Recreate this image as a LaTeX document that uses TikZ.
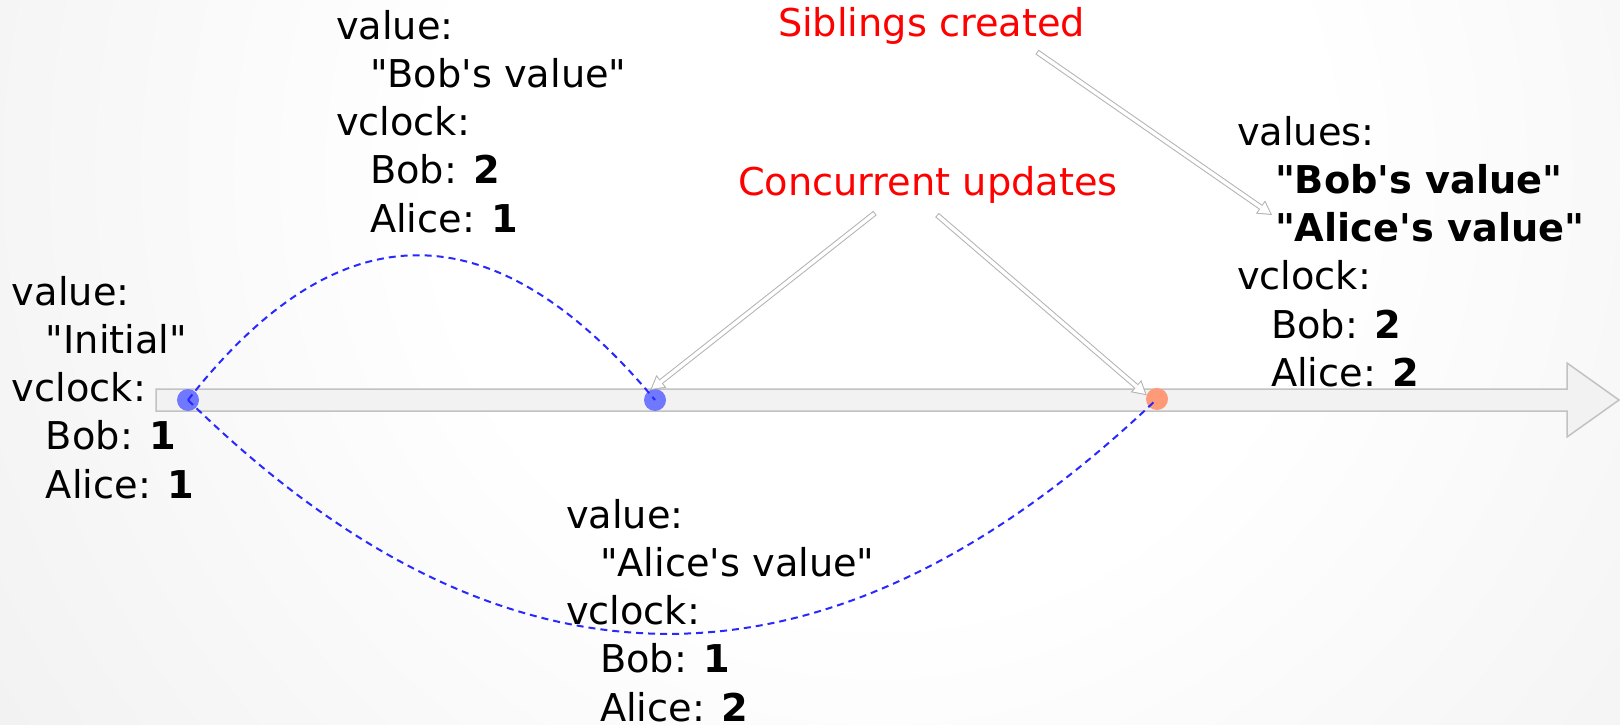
\documentclass[tikz,border=0pt]{standalone}
\usepackage{fontspec}
\setmainfont{DejaVu Sans}[Ligatures=TeXOff]
\usetikzlibrary{arrows.meta}

\definecolor{bgedge}{gray}{0.85}
\definecolor{railfill}{gray}{0.95}
\definecolor{raildraw}{gray}{0.76}
\definecolor{dotblue}{RGB}{112,120,255}
\definecolor{dotsalmon}{RGB}{255,154,120}
\definecolor{pathblue}{RGB}{40,40,255}
\definecolor{hollowedge}{gray}{0.70}
\definecolor{notered}{RGB}{255,0,0}

\pgfdeclareradialshading{bgglow}{\pgfpoint{0bp}{0bp}}%
  {color(0bp)=(white); color(10bp)=(white); color(50bp)=(bgedge)}

\tikzset{
  every node/.style={inner sep=0pt, outer sep=0pt},
  txt/.style={font=\fontsize{38.3}{48.25}\selectfont, text=black, align=left, anchor=north west},
  note/.style={font=\fontsize{38.3}{48.25}\selectfont, text=notered, anchor=base west},
  event/.style={circle, minimum size=22pt, fill=#1},
  clock/.style={draw=pathblue, line width=2pt, dash pattern=on 7pt off 5pt},
  hollowout/.style={line width=5.5pt, draw=hollowedge,
    -{Triangle[length=14pt, width=16pt, line width=0pt]}},
  hollowin/.style={line width=3.5pt, draw=white,
    -{Triangle[length=11pt, width=12.5pt, line width=0pt]}, shorten >=2pt, shorten <=1pt},
}
% tall invisible rule fixing the first baseline 32pt below a block's top
\newcommand\firstline{\rule{0pt}{32pt}}
\newcommand\ind{\hspace*{34pt}}
\newcommand\hollowarrow[2]{%
  \draw[hollowout] (#1) -- (#2);
  \draw[hollowin] (#1) -- (#2);}

\begin{document}
\begin{tikzpicture}[x=1pt, y=-1pt]
\useasboundingbox (0,0) rectangle (1620,725);

% soft radial backdrop
\begin{scope}
  \clip (0,0) rectangle (1620,725);
  \shade[shading=bgglow] (880,170) circle[radius=1100pt];
\end{scope}

% time line
\draw[draw=raildraw, fill=railfill, line width=1.5pt, line join=miter]
  (156,389) -- (1567,389) -- (1567,363) -- (1619,400) -- (1567,437)
  -- (1567,411) -- (156,411) -- cycle;

% events
\node[event=dotblue]   (d1) at (188,400) {};
\node[event=dotblue]   (d2) at (655,400) {};
\node[event=dotsalmon] (d3) at (1157,399) {};

% causal history
\draw[clock] (d1.center) .. controls (339,207) and (494,207) .. (d2.center);
\draw[clock] (d1.center) .. controls (506,712) and (829,712) .. (d3.center);

% annotations
\node[note] (sib)  at (778,37)  {Siblings created};
\node[note] (conc) at (738,195) {Concurrent updates};

\coordinate (sibtail) at (1037,52);
\coordinate (sibtip)  at (1272,215);
\coordinate (concl)   at (875,213);
\coordinate (concr)   at (937,215);

\hollowarrow{sibtail}{sibtip}
\hollowarrow{concl}{d2.115}
\hollowarrow{concr}{d3.160}

% object states
\node[txt] (init) at (12,273)
  {\firstline value:\\\ind"Initial"\\vclock:\\\ind Bob: \textbf{1}\\\ind Alice: \textbf{1}};
\node[txt] (bob) at (336,7)
  {\firstline value:\\\ind"Bob's value"\\vclock:\\\ind Bob: \textbf{2}\\\ind Alice: \textbf{1}};
\node[txt] (alice) at (566,496)
  {\firstline value:\\\ind"Alice's value"\\vclock:\\\ind Bob: \textbf{1}\\\ind Alice: \textbf{2}};
\node[txt] (merged) at (1237,113)
  {\firstline values:\\\hspace*{38pt}\textbf{"Bob's value"}\\\hspace*{38pt}\textbf{"Alice's value"}\\vclock:\\\ind Bob: \textbf{2}\\\ind Alice: \textbf{2}};
\end{tikzpicture}
\end{document}
